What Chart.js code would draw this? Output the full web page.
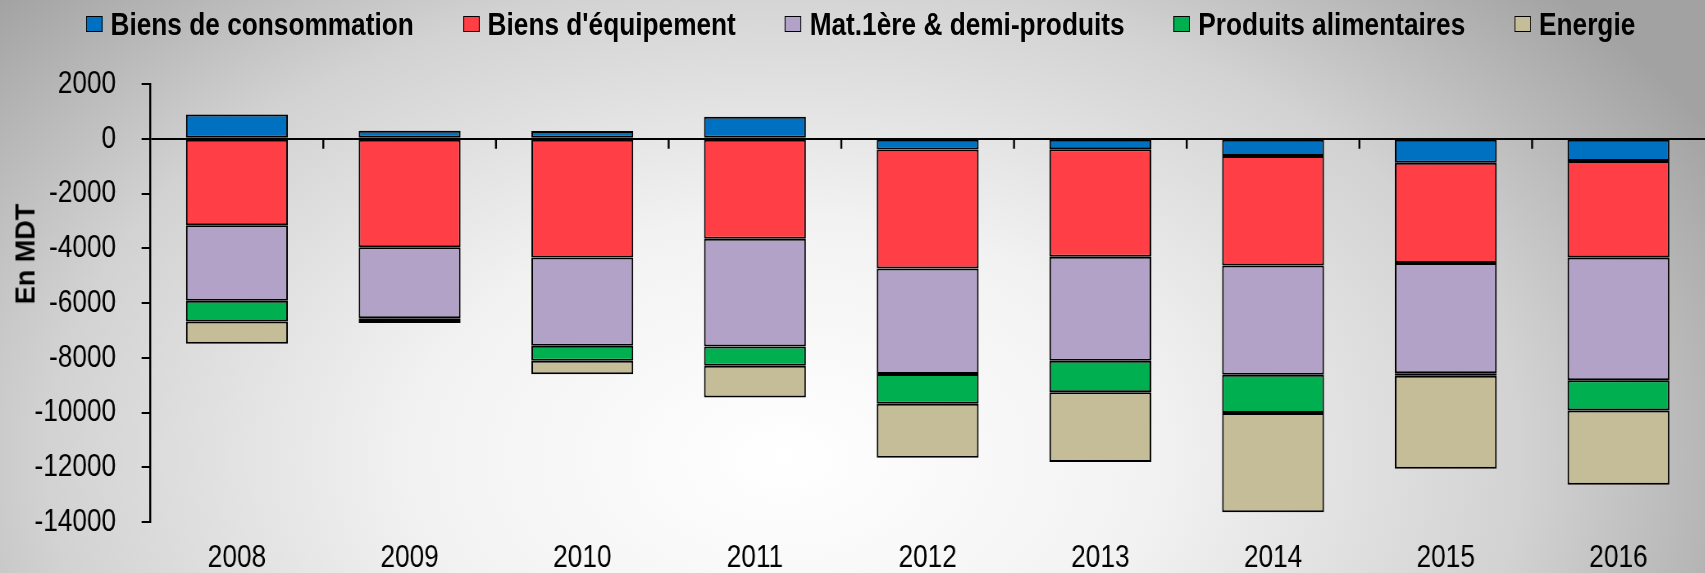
<!DOCTYPE html>
<html>
<head>
<meta charset="utf-8">
<script src="https://cdn.jsdelivr.net/npm/chart.js@4.4.0/dist/chart.umd.min.js"></script>
<style>
  html, body { margin: 0; padding: 0; }
  body {
    width: 1705px; height: 573px; overflow: hidden; position: relative;
    background: radial-gradient(ellipse 62% 120% at 46% 80%, #ffffff 0%, #f2f2f2 35%, #d2d2d2 70%, #a2a2a2 100%);
    font-family: "Liberation Sans", Arial, sans-serif;
  }
  /* the reference uses a condensed face; squeeze the whole drawing horizontally */
  #wrap { position: absolute; left: 0; top: 0; width: 2079px; height: 573px; overflow: hidden; transform: scaleX(0.82); transform-origin: 0 0; }
  #legend {
    position: absolute; left: 10px; top: 6px; width: 2079px;
    display: flex; justify-content: center; gap: 60px;
    font-weight: bold; font-size: 32px; line-height: 36px; color: #000;
  }
  #legend span.item { display: flex; align-items: center; gap: 10px; }
  #legend span.box { display: inline-block; width: 18px; height: 14px; border: 1.5px solid #000; }
  #mainChart { position: absolute; left: 0; top: 0; width: 2079px; height: 595px; }
  #yTitle {
    position: absolute; left: 26px; top: 254px;
    transform: translate(-50%, -50%) rotate(-90deg);
    font-weight: bold; font-size: 27px; line-height: 27px; white-space: nowrap; color: #000;
  }
</style>
</head>
<body>
<div id="wrap">
  <div id="legend"></div>
  <canvas id="mainChart" width="2079" height="595"></canvas>
</div>
<div id="yTitle">En MDT</div>
<script>
// years on the x axis
const years = ['2008', '2009', '2010', '2011', '2012', '2013', '2014', '2015', '2016'];

// balance by product group, en MDT
const biensConsommation = [890, 290, 280, 800, -390, -380, -630, -875, -810];
const biensEquipement = [-3160, -3960, -4340, -3650, -4350, -3930, -4000, -3660, -3530];
const matPremieres = [-2760, -2600, -3220, -3940, -3850, -3800, -3990, -4030, -4480];
const produitsAlimentaires = [-760, -20, -550, -700, -1090, -1150, -1400, -90, -1110];
const energie = [-810, -150, -490, -1160, -1970, -2550, -3620, -3400, -2710];

const seriesNames = ['Biens de consommation', "Biens d'équipement", 'Mat.1ère & demi-produits', 'Produits alimentaires', 'Energie'];
const seriesColors = ['#0070C0', '#FF3F45', '#B2A2C7', '#00B050', '#C4BD97'];

const font = '"Liberation Sans", Arial, sans-serif';

// legend as plain html so the item spacing can follow the original
const legendEl = document.getElementById('legend');
seriesNames.forEach((name, i) => {
    const item = document.createElement('span');
    item.className = 'item';
    item.innerHTML = '<span class="box" style="background:' + seriesColors[i] + '"></span><span></span>';
    item.lastChild.textContent = name;
    legendEl.appendChild(item);
});

// small tick marks on the zero line between the categories
const zeroTicks = {
    id: 'zeroTicks',
    afterDraw(chart) {
        const x = chart.scales.x, y = chart.scales.y;
        const y0 = y.getPixelForValue(0);
        const ctx = chart.ctx;
        ctx.save();
        ctx.strokeStyle = '#000';
        ctx.lineWidth = 2.4;
        for (let i = 1; i < years.length; i++) {
            const px = (x.getPixelForValue(i - 1) + x.getPixelForValue(i)) / 2;
            ctx.beginPath();
            ctx.moveTo(px, y0);
            ctx.lineTo(px, y0 + 10);
            ctx.stroke();
        }
        ctx.restore();
    }
};

const allSeries = [biensConsommation, biensEquipement, matPremieres, produitsAlimentaires, energie];

const ctx = document.getElementById('mainChart').getContext('2d');
const mainChart = new Chart(ctx, {
    type: 'bar',
    data: {
        labels: years,
        datasets: allSeries.map((vals, i) => ({
            label: seriesNames[i],
            data: vals,
            backgroundColor: seriesColors[i],
            borderColor: '#000',
            borderWidth: 2,
            borderSkipped: false,
            categoryPercentage: 1,
            barPercentage: 0.59
        }))
    },
    options: {
        responsive: false,
        devicePixelRatio: 1,
        animation: false,
        layout: { padding: { top: 84, left: 11, right: 0, bottom: 0 } },
        plugins: {
            legend: { display: false },
            tooltip: { enabled: false }
        },
        scales: {
            x: {
                stacked: true,
                grid: { display: false, drawTicks: false },
                border: { display: false },
                ticks: {
                    color: '#000',
                    padding: 20.5,
                    font: { family: font, size: 32, lineHeight: 1 }
                }
            },
            y: {
                stacked: true,
                min: -14000,
                max: 2000,
                border: { display: true, color: '#000', width: 2.4 },
                grid: {
                    color: c => c.tick && c.tick.value === 0 ? '#000' : 'rgba(0,0,0,0)',
                    lineWidth: 2,
                    tickColor: '#000',
                    tickWidth: 2,
                    tickLength: 11
                },
                ticks: {
                    stepSize: 2000,
                    color: '#000',
                    padding: 31,
                    font: { family: font, size: 32, lineHeight: 1 },
                    callback: v => String(v)
                },
                title: { display: false }
            }
        }
    },
    plugins: [zeroTicks]
});
</script>
</body>
</html>
